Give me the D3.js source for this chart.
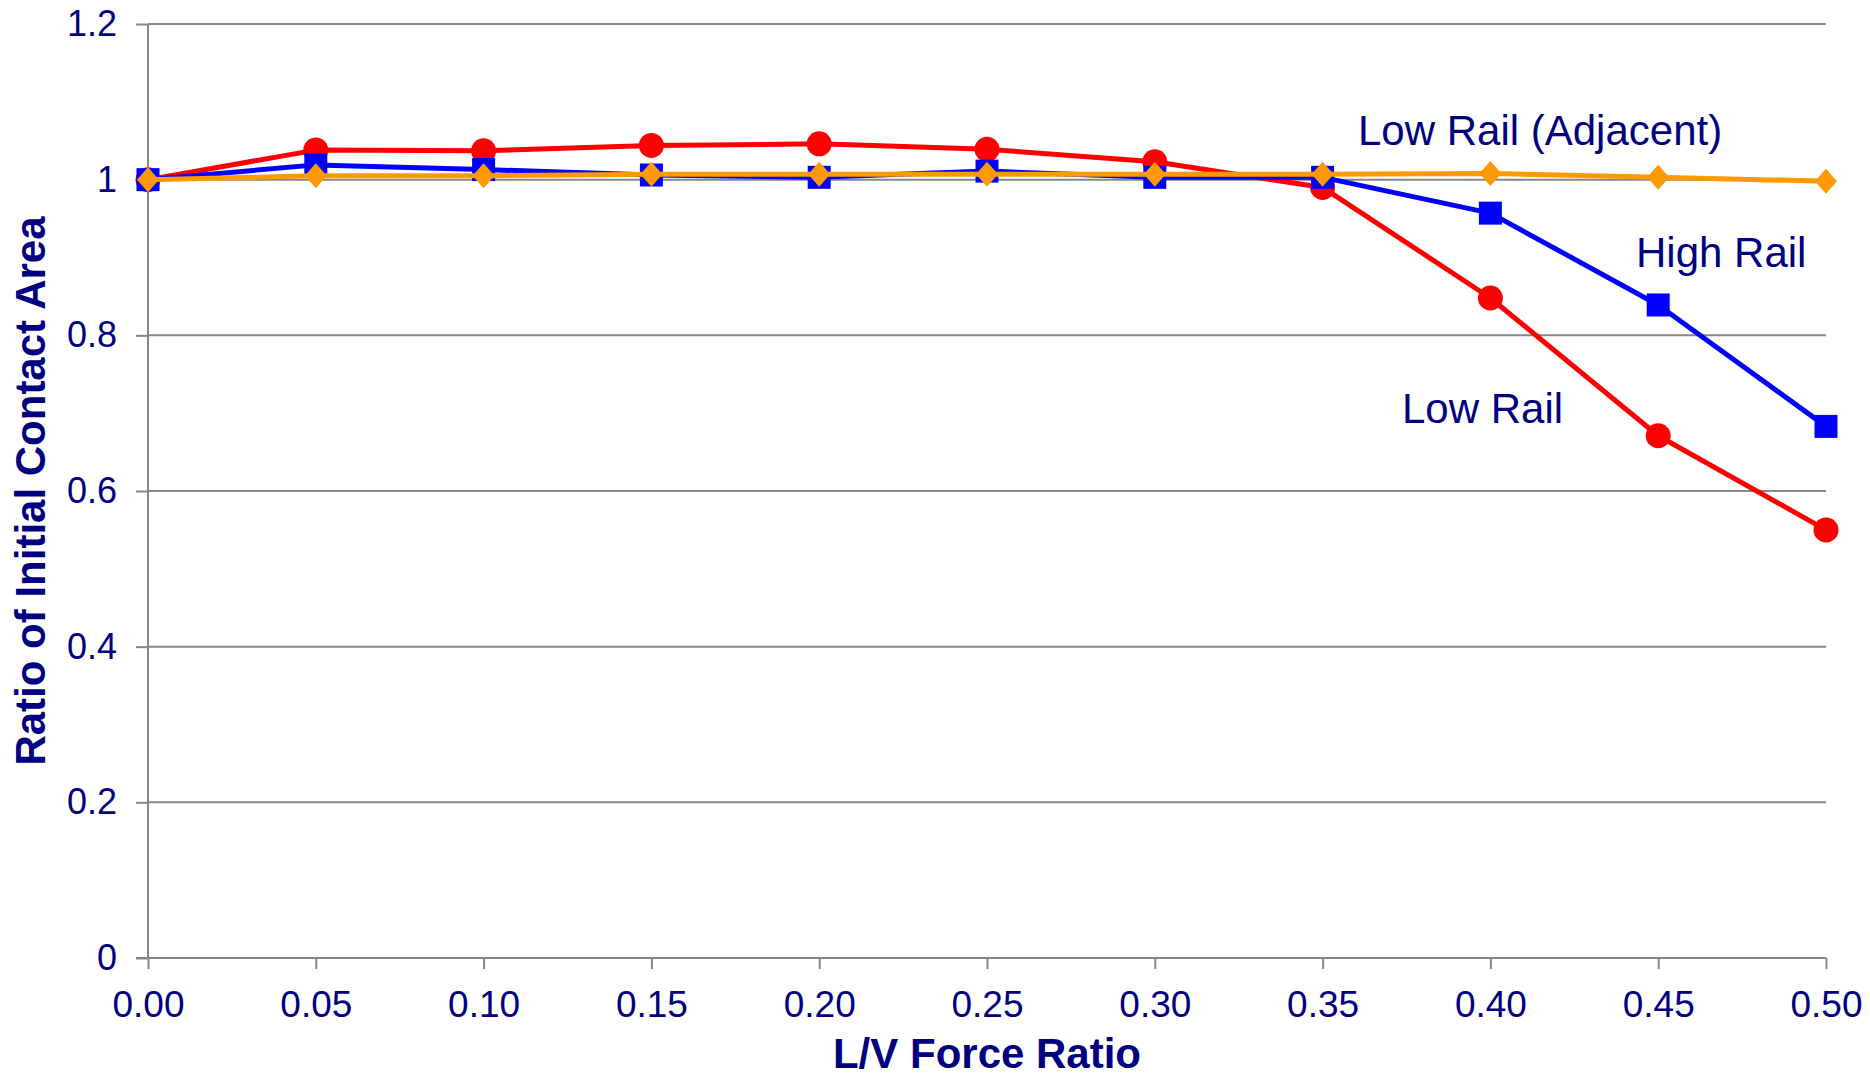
<!DOCTYPE html>
<html>
<head>
<meta charset="utf-8">
<script src="https://cdn.jsdelivr.net/npm/d3@7"></script>
<style>
  html, body { margin: 0; padding: 0; background: #ffffff; }
  svg { display: block; }
  text { font-family: "Liberation Sans", Arial, sans-serif; fill: #000080; }
</style>
</head>
<body>
<svg id="chart" width="1870" height="1077"></svg>
<script>
// L/V force ratio (x categories)
const lvRatio = [0.00, 0.05, 0.10, 0.15, 0.20, 0.25, 0.30, 0.35, 0.40, 0.45, 0.50];
const xTickLabels = ["0.00", "0.05", "0.10", "0.15", "0.20", "0.25", "0.30", "0.35", "0.40", "0.45", "0.50"];
const yTicks = [0, 0.2, 0.4, 0.6, 0.8, 1.0, 1.2];
const yTickLabels = ["0", "0.2", "0.4", "0.6", "0.8", "1", "1.2"];

// Ratio of initial contact area per series
const lowRail = [1.000, 1.038, 1.037, 1.044, 1.046, 1.039, 1.023, 0.990, 0.848, 0.671, 0.550];
const highRail = [1.000, 1.019, 1.013, 1.006, 1.003, 1.011, 1.003, 1.003, 0.957, 0.839, 0.683];
const lowRailAdjacent = [1.000, 1.005, 1.005, 1.007, 1.007, 1.007, 1.007, 1.007, 1.008, 1.003, 0.998];

const seriesNames = ["Low Rail", "High Rail", "Low Rail (Adjacent)"];
const seriesColors = ["#ff0000", "#0000ff", "#ff9900"];
const seriesShapes = ["circle", "square", "diamond"];

const svg = d3.select("#chart");
const margin = { left: 148, right: 44, top: 24, bottom: 119 };
const W = 1870, H = 1077;

const x = d3.scaleLinear().domain([0, 0.5]).range([margin.left, W - margin.right]);
const y = d3.scaleLinear().domain([0, 1.2]).range([H - margin.bottom, margin.top]);

const gridColor = "#868686";

// horizontal gridlines
svg.append("g")
  .selectAll("line")
  .data(yTicks.filter(d => d > 0))
  .join("line")
  .attr("x1", x(0)).attr("x2", x(0.5))
  .attr("y1", d => y(d)).attr("y2", d => y(d))
  .attr("stroke", gridColor).attr("stroke-width", 2);

// y axis
const yAxis = d3.axisLeft(y)
  .tickValues(yTicks)
  .tickFormat((d, i) => yTickLabels[i])
  .tickSize(12)
  .tickPadding(19);
const gy = svg.append("g").attr("transform", `translate(${x(0)},0)`).call(yAxis);
gy.select(".domain").attr("stroke", gridColor).attr("stroke-width", 2)
  .attr("d", `M0,${y(1.2)}V${y(0)}`);
gy.selectAll(".tick line").attr("stroke", gridColor).attr("stroke-width", 2);
gy.selectAll(".tick text")
  .style("font-size", "36px")
  .style("fill", "#000080")
  .style("font-family", "'Liberation Sans', Arial, sans-serif");

// x axis
const xAxis = d3.axisBottom(x)
  .tickValues(lvRatio)
  .tickFormat((d, i) => xTickLabels[i])
  .tickSize(11)
  .tickPadding(22);
const gx = svg.append("g").attr("transform", `translate(0,${y(0)})`).call(xAxis);
gx.select(".domain").attr("stroke", gridColor).attr("stroke-width", 2)
  .attr("d", `M${x(0) - 12},0H${x(0.5)}`);
gx.selectAll(".tick line").attr("stroke", gridColor).attr("stroke-width", 2);
gx.selectAll(".tick text")
  .style("font-size", "37px")
  .style("fill", "#000080")
  .style("font-family", "'Liberation Sans', Arial, sans-serif");

// axis titles
svg.append("text")
  .attr("x", (x(0) + x(0.5)) / 2)
  .attr("y", 1068)
  .attr("text-anchor", "middle")
  .style("font-size", "42px")
  .style("font-weight", "bold")
  .text("L/V Force Ratio");

svg.append("text")
  .attr("transform", `translate(45,${(y(0) + y(1.2)) / 2}) rotate(-90)`)
  .attr("text-anchor", "middle")
  .style("font-size", "42px")
  .style("font-weight", "bold")
  .text("Ratio of Initial Contact Area");

// series
const allSeries = [lowRail, highRail, lowRailAdjacent];
const line = d3.line().x((d, i) => x(lvRatio[i])).y(d => y(d));

allSeries.forEach((vals, si) => {
  const g = svg.append("g").attr("class", "series");
  const color = seriesColors[si];
  g.append("path")
    .datum(vals)
    .attr("d", line)
    .attr("fill", "none")
    .attr("stroke", color)
    .attr("stroke-width", 5)
    .attr("stroke-linejoin", "round");

  const shape = seriesShapes[si];
  const pts = g.selectAll(".pt").data(vals).join("g")
    .attr("transform", (d, i) => `translate(${x(lvRatio[i])},${y(d)})`);
  if (shape === "circle") {
    pts.append("circle").attr("r", 12.5).attr("fill", color);
  } else if (shape === "square") {
    pts.append("rect").attr("x", -11.5).attr("y", -11.5)
      .attr("width", 23).attr("height", 23).attr("fill", color);
  } else {
    pts.append("path").attr("d", "M0,-12.5L11,0L0,12.5L-11,0Z").attr("fill", color);
  }
});

// series labels
const labelPos = [
  { name: seriesNames[0], x: 1402, y: 423 },
  { name: seriesNames[1], x: 1636, y: 267 },
  { name: seriesNames[2], x: 1358, y: 145 }
];
svg.append("g").selectAll("text")
  .data(labelPos)
  .join("text")
  .attr("x", d => d.x)
  .attr("y", d => d.y)
  .style("font-size", "42px")
  .text(d => d.name);
</script>
</body>
</html>
